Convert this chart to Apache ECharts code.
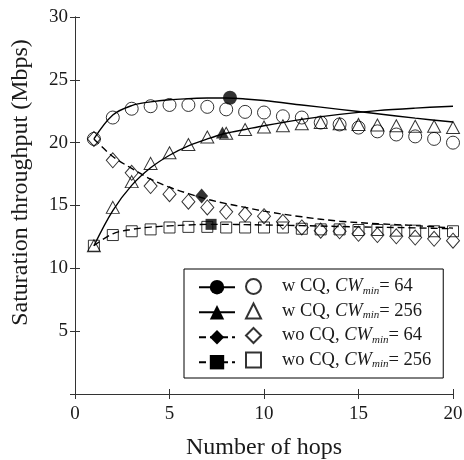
<!DOCTYPE html>
<html>
<head>
<meta charset="utf-8">
<script src="https://cdn.jsdelivr.net/npm/echarts@6/dist/echarts.min.js"></script>
<style>
html, body { margin: 0; padding: 0; background: #fff; }
#chart { width: 464px; height: 460px; }
</style>
</head>
<body>
<div id="chart"></div>
<script>
// measured points (hollow markers)
const hops = [1, 2, 3, 4, 5, 6, 7, 8, 9, 10, 11, 12, 13, 14, 15, 16, 17, 18, 19, 20];
const wCQ64 = [20.3, 22.0, 22.7, 22.9, 23.0, 23.0, 22.85, 22.65, 22.45, 22.4, 22.1, 22.0, 21.6, 21.45, 21.2, 20.9, 20.65, 20.5, 20.3, 20.0];
const wCQ256 = [11.8, 14.85, 16.9, 18.35, 19.2, 19.85, 20.45, 20.75, 21.05, 21.25, 21.35, 21.5, 21.6, 21.5, 21.45, 21.4, 21.35, 21.3, 21.3, 21.2];
const woCQ64 = [20.3, 18.6, 17.6, 16.55, 15.9, 15.3, 14.85, 14.5, 14.3, 14.15, 13.7, 13.25, 13.0, 12.95, 12.75, 12.65, 12.55, 12.45, 12.35, 12.2];
const woCQ256 = [11.8, 12.65, 12.95, 13.1, 13.25, 13.3, 13.3, 13.25, 13.25, 13.25, 13.25, 13.15, 13.1, 13.1, 13.05, 13.05, 13.0, 13.0, 12.95, 12.95];

// analytical curves
const fitX = [1, 2, 3, 4, 5, 6, 7, 8, 9, 10, 12, 14, 16, 18, 20];
const fitW64 = [20.3, 22.2, 22.95, 23.25, 23.42, 23.5, 23.55, 23.55, 23.48, 23.35, 23.0, 22.65, 22.3, 21.95, 21.65];
const fitW256 = [11.8, 14.6, 16.6, 18.0, 19.0, 19.75, 20.3, 20.75, 21.05, 21.35, 21.85, 22.25, 22.55, 22.75, 22.9];
const fitWo64 = [20.3, 18.9, 17.95, 17.1, 16.45, 15.95, 15.5, 15.15, 14.85, 14.55, 14.1, 13.75, 13.55, 13.4, 13.2];
const fitWo256 = [11.8, 12.75, 13.1, 13.28, 13.38, 13.45, 13.5, 13.5, 13.48, 13.45, 13.4, 13.33, 13.27, 13.22, 13.15];

// filled markers sitting on the curves
const filledX = [8.2, 7.8, 6.7, 7.2];
const filledY = [23.57, 20.8, 15.75, 13.5];

const legendNames = ['w CQ, CWmin = 64', 'w CQ, CWmin = 256', 'wo CQ, CWmin = 64', 'wo CQ, CWmin = 256'];
const legendPrefix = ['w CQ, ', 'w CQ, ', 'wo CQ, ', 'wo CQ, '];
const legendValue = ['64', '256', '64', '256'];

const symbols = ['circle', 'triangle', 'diamond', 'rect'];
const sizes = [13, [13, 12], [13, 15], 11];
const dashed = [false, false, true, true];
const measured = [wCQ64, wCQ256, woCQ64, woCQ256];
const fits = [fitW64, fitW256, fitWo64, fitWo256];

const FONT = 'Liberation Serif';
const INK = '#1a1a1a';

const zip = (xs, ys) => xs.map((x, i) => [x, ys[i]]);

const curveNames = legendNames.map(n => n + ' curve');

const series = [];
fits.forEach((ys, k) => {
    series.push({
        name: curveNames[k],
        type: 'line',
        data: zip(fitX, ys),
        smooth: 0.35,
        showSymbol: false,
        symbol: symbols[k],
        symbolSize: sizes[k],
        itemStyle: { color: '#000' },
        lineStyle: { color: '#000', width: 1.4, type: dashed[k] ? [7, 4] : 'solid' },
        silent: true,
        z: 2
    });
});
measured.forEach((ys, k) => {
    series.push({
        name: legendNames[k],
        type: 'scatter',
        data: zip(hops, ys),
        symbol: symbols[k],
        symbolSize: sizes[k],
        itemStyle: { color: 'transparent', borderColor: '#000', borderWidth: 1 },
        silent: true,
        z: 3
    });
});
series.push({
    name: 'filled',
    type: 'scatter',
    data: zip(filledX, filledY),
    symbol: (v, p) => symbols[p.dataIndex],
    symbolSize: (v, p) => p.dataIndex === 0 ? 14 : sizes[p.dataIndex],
    itemStyle: { color: '#000' },
    silent: true,
    z: 4
});

const chart = echarts.init(document.getElementById('chart'), null, { renderer: 'canvas' });

const axisCommon = {
    axisLine: { show: true, lineStyle: { color: '#333', width: 1 } },
    axisTick: { show: true, inside: true, length: 5, lineStyle: { color: '#333' } },
    splitLine: { show: false }
};

chart.setOption({
    backgroundColor: '#fff',
    animation: false,
    // keep the plot box fixed, v6 would otherwise shrink it to fit the axis names
    grid: { left: 75, right: 11, top: 17, bottom: 66, containLabel: false, outerBoundsMode: 'none' },
    xAxis: [
        Object.assign({
            type: 'value', min: 0, max: 20, interval: 5, position: 'bottom',
            name: 'Number of hops', nameLocation: 'middle', nameGap: 42,
            nameTextStyle: { fontFamily: FONT, fontSize: 24, color: INK },
            axisLabel: { fontFamily: FONT, fontSize: 19, color: INK, margin: 11 }
        }, axisCommon),
        Object.assign({
            type: 'value', min: 0, max: 20, interval: 5, position: 'top',
            axisLabel: { show: false }
        }, axisCommon)
    ],
    yAxis: [
        Object.assign({
            type: 'value', min: 0, max: 30, interval: 5, position: 'left',
            name: 'Saturation throughput (Mbps)', nameLocation: 'middle', nameGap: 42,
            nameTextStyle: { fontFamily: FONT, fontSize: 24, color: INK, padding: [0, 0, 0, 46] },
            axisLabel: { fontFamily: FONT, fontSize: 19, color: INK, margin: 7, showMinLabel: false }
        }, axisCommon),
        Object.assign({
            type: 'value', min: 0, max: 30, interval: 5, position: 'right',
            axisLabel: { show: false }
        }, axisCommon)
    ],
    legend: [
        {
            // hollow markers + text, box drawn around whole legend
            data: legendNames,
            orient: 'vertical',
            left: 184,
            top: 269,
            padding: [8, 12, 8, 61],
            itemWidth: 15,
            itemHeight: 15,
            itemGap: 5,
            selectedMode: false,
            backgroundColor: '#fff',
            borderColor: '#000',
            borderWidth: 1,
            z: 5,
            formatter: name => {
                const k = legendNames.indexOf(name);
                return '{g| }{n|' + legendPrefix[k] + '}{i|CW}{s|min}{n|= ' + legendValue[k] + '}';
            },
            textStyle: {
                rich: {
                    g: { width: 16, fontSize: 10, lineHeight: 20 },
                    n: { fontFamily: FONT, fontSize: 18.5, lineHeight: 20, color: INK },
                    i: { fontFamily: FONT, fontSize: 18.5, lineHeight: 20, fontStyle: 'italic', color: INK },
                    s: { fontFamily: FONT, fontSize: 11, lineHeight: 6, fontStyle: 'italic', color: INK, verticalAlign: 'bottom' }
                }
            }
        },
        {
            // curve samples: line + filled marker
            data: curveNames,
            orient: 'vertical',
            left: 198,
            top: 280,
            padding: 0,
            itemWidth: 36,
            itemHeight: 18,
            itemGap: 10.6,
            selectedMode: false,
            z: 6,
            formatter: () => '',
            textStyle: { fontSize: 10, lineHeight: 14 }
        }
    ],
    series: series
});
</script>
</body>
</html>
